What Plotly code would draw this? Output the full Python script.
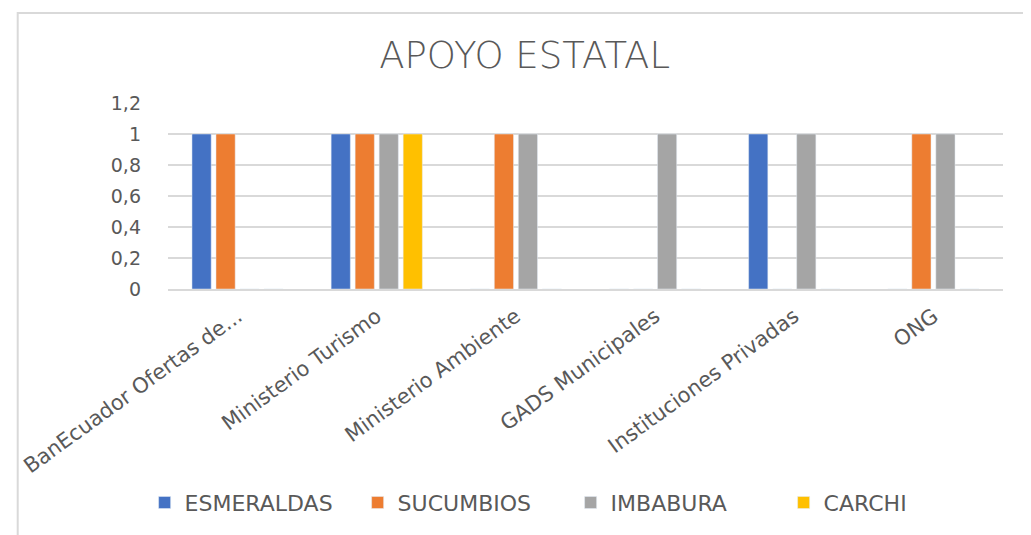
"""Grouped bar chart: APOYO ESTATAL by province."""

import plotly.graph_objects as go

categories = [
    "BanEcuador Ofertas de...",
    "Ministerio Turismo",
    "Ministerio Ambiente",
    "GADS Municipales",
    "Instituciones Privadas",
    "ONG",
]
esmeraldas = [1, 1, 0, 0, 1, 0]
sucumbios = [1, 1, 1, 0, 0, 1]
imbabura = [0, 1, 1, 1, 1, 1]
carchi = [0, 1, 0, 0, 0, 0]

series = [
    ("ESMERALDAS", esmeraldas, "#4472C4"),
    ("SUCUMBIOS", sucumbios, "#ED7D31"),
    ("IMBABURA", imbabura, "#A5A5A5"),
    ("CARCHI", carchi, "#FFC000"),
]

FONT = "DejaVu Sans, Open Sans, sans-serif"
GREY = "#595959"

fig = go.Figure()
for name, values, color in series:
    fig.add_trace(go.Bar(x=categories, y=values, name=name, marker_color=color))

# page body has an 8px margin, so the figure is sized / offset to compensate
fig.update_layout(
    width=1023,
    height=527,
    barmode="group",
    bargap=0.31,
    bargroupgap=0.2,
    separators=", ",
    paper_bgcolor="white",
    plot_bgcolor="white",
    margin=dict(l=153, r=28, t=95, b=244),
    title=dict(
        text="APOYO ESTATAL",
        x=0.505,
        xanchor="center",
        y=0.911,
        yanchor="middle",
        font=dict(family=FONT, size=37, color=GREY, weight=300),
    ),
    legend=dict(
        orientation="h",
        x=-0.028,
        xanchor="left",
        y=-1.149,
        yanchor="middle",
        font=dict(family=FONT, size=22, color=GREY),
        itemwidth=30,
        entrywidth=168,
        entrywidthmode="pixels",
        traceorder="normal",
    ),
    showlegend=True,
)

fig.update_yaxes(
    range=[0, 1.2],
    dtick=0.2,
    showgrid=True,
    gridcolor="#D9D9D9",
    gridwidth=2,
    zeroline=False,
    showline=False,
    ticklabelstandoff=26,
    tickfont=dict(family=FONT, size=19, color=GREY),
)
fig.update_xaxes(
    showline=True,
    linecolor="#D9D9D9",
    linewidth=2,
    tickangle=-36,
    ticklabelstandoff=5,
    tickfont=dict(family=FONT, size=21, color=GREY),
)

# outer chart border
fig.add_shape(
    type="rect",
    xref="paper",
    yref="paper",
    x0=-0.18,
    x1=1.1,
    y0=-2,
    y1=1.484,
    line=dict(color="#D9D9D9", width=2),
    layer="below",
)

fig.write_html("out.html")
